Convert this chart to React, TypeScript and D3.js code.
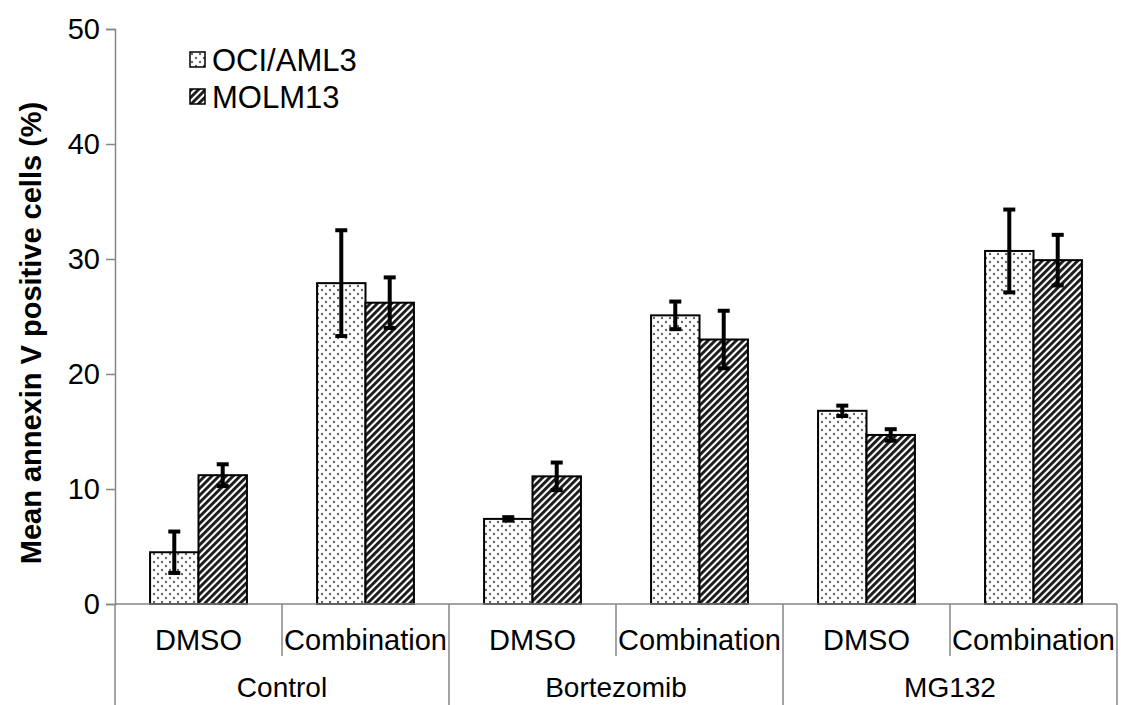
import { useRef, useEffect } from "react";
import * as d3 from "d3";

const groups = ["Control", "Bortezomib", "MG132"];
const treatments = ["DMSO", "Combination"];
const series = ["OCI/AML3", "MOLM13"];
const yTicks = [0, 10, 20, 30, 40, 50];

// mean values, order: Control DMSO, Control Comb, Bort DMSO, Bort Comb, MG132 DMSO, MG132 Comb
const ociMean = [4.5, 27.9, 7.4, 25.1, 16.8, 30.7];
const ociErr = [1.8, 4.6, 0.15, 1.2, 0.45, 3.6];
const molmMean = [11.2, 26.2, 11.1, 23.0, 14.7, 29.9];
const molmErr = [0.95, 2.2, 1.2, 2.5, 0.5, 2.2];

const App = () => {
  const svgRef = useRef<SVGSVGElement>(null);

  useEffect(() => {
    const svg = d3.select(svgRef.current);
    svg.selectAll("*").remove();

    const W = 1121, H = 705;
    const left = 115, right = 1117, top = 29, bottom = 604;
    svg.attr("width", W).attr("height", H);

    const defs = svg.append("defs");
    const dots = defs.append("pattern")
      .attr("id", "dots")
      .attr("patternUnits", "userSpaceOnUse")
      .attr("width", 8).attr("height", 8);
    dots.append("rect").attr("width", 8).attr("height", 8).attr("fill", "#fff");
    dots.append("circle").attr("cx", 2).attr("cy", 2).attr("r", 1.2).attr("fill", "#666");
    dots.append("circle").attr("cx", 6).attr("cy", 6).attr("r", 1.2).attr("fill", "#666");

    const hatch = defs.append("pattern")
      .attr("id", "hatch")
      .attr("patternUnits", "userSpaceOnUse")
      .attr("width", 5).attr("height", 5)
      .attr("patternTransform", "rotate(45)");
    hatch.append("rect").attr("width", 5).attr("height", 5).attr("fill", "#fff");
    hatch.append("rect").attr("x", 0).attr("y", 0).attr("width", 2.9).attr("height", 5).attr("fill", "#1a1a1a");

    const cats = groups.flatMap((g) => treatments.map((t) => `${g}|${t}`));
    const x0 = d3.scaleBand().domain(cats).range([left, right]);
    const bw = x0.bandwidth();
    const x1 = d3.scaleBand().domain(series).range([bw * 0.21, bw * 0.79]);
    const y = d3.scaleLinear().domain([0, 50]).range([bottom, top]);

    const font = "'Liberation Sans', Arial, sans-serif";
    const axisColor = "#868686";

    // y axis
    const yAxis = svg.append("g")
      .attr("transform", `translate(${left},0)`)
      .call(d3.axisLeft(y).tickValues(yTicks).tickSize(9).tickPadding(6).tickFormat(d3.format("d")));
    yAxis.select(".domain").attr("stroke", axisColor).attr("stroke-width", 1.5);
    yAxis.selectAll(".tick line").attr("stroke", axisColor).attr("stroke-width", 1.5);
    yAxis.selectAll(".tick text")
      .attr("font-family", font).attr("font-size", 29).attr("fill", "#000");

    // bars
    const meanBy = [ociMean, molmMean];
    const errBy = [ociErr, molmErr];
    const fills = ["url(#dots)", "url(#hatch)"];

    series.forEach((s, si) => {
      const g = svg.append("g");
      g.selectAll("rect")
        .data(cats)
        .enter()
        .append("rect")
        .attr("x", (c) => x0(c)! + x1(s)!)
        .attr("y", (c, i) => y(meanBy[si][i]))
        .attr("width", x1.bandwidth())
        .attr("height", (c, i) => bottom - y(meanBy[si][i]))
        .attr("fill", fills[si])
        .attr("stroke", "#000")
        .attr("stroke-width", 2);
    });

    // x axis line
    svg.append("line")
      .attr("x1", left).attr("x2", right)
      .attr("y1", bottom).attr("y2", bottom)
      .attr("stroke", axisColor).attr("stroke-width", 1.5);

    // error bars
    series.forEach((s, si) => {
      const g = svg.append("g");
      cats.forEach((c, i) => {
        const cx = x0(c)! + x1(s)! + x1.bandwidth() / 2;
        const m = meanBy[si][i], e = errBy[si][i];
        const yHi = y(m + e), yLo = y(m - e);
        g.append("line").attr("x1", cx).attr("x2", cx).attr("y1", yHi).attr("y2", yLo)
          .attr("stroke", "#000").attr("stroke-width", 4);
        [yHi, yLo].forEach((yy) => {
          g.append("line").attr("x1", cx - 6).attr("x2", cx + 6).attr("y1", yy).attr("y2", yy)
            .attr("stroke", "#000").attr("stroke-width", 4);
        });
      });
    });

    // category dividers and labels
    const cg = svg.append("g");
    cats.forEach((c, i) => {
      const xs = x0(c)!;
      const isGroupStart = i % 2 === 0;
      cg.append("line")
        .attr("x1", xs).attr("x2", xs)
        .attr("y1", bottom).attr("y2", isGroupStart ? H : 656)
        .attr("stroke", axisColor).attr("stroke-width", 1.5);
      cg.append("text")
        .attr("x", xs + bw / 2).attr("y", 650)
        .attr("text-anchor", "middle")
        .attr("font-family", font).attr("font-size", 29)
        .text(c.split("|")[1]);
    });
    cg.append("line")
      .attr("x1", right).attr("x2", right)
      .attr("y1", bottom).attr("y2", H)
      .attr("stroke", axisColor).attr("stroke-width", 1.5);
    groups.forEach((g) => {
      const xs = x0(`${g}|DMSO`)!;
      cg.append("text")
        .attr("x", xs + bw).attr("y", 697)
        .attr("text-anchor", "middle")
        .attr("font-family", font).attr("font-size", 28)
        .text(g);
    });

    // y title
    svg.append("text")
      .attr("transform", `translate(41,333) rotate(-90)`)
      .attr("text-anchor", "middle")
      .attr("font-family", font).attr("font-size", 29).attr("font-weight", "bold")
      .text("Mean annexin V positive cells (%)");

    // legend
    const lg = svg.append("g").attr("transform", "translate(190,52)");
    series.forEach((s, si) => {
      const row = lg.append("g").attr("transform", `translate(0,${si * 37})`);
      row.append("rect").attr("width", 15).attr("height", 15)
        .attr("fill", fills[si]).attr("stroke", "#000").attr("stroke-width", 1.5);
      row.append("text").attr("x", 22).attr("y", 19)
        .attr("font-family", font).attr("font-size", 31)
        .text(s);
    });
  }, []);

  return (
    <div style={{ position: "absolute", left: 0, top: 0, width: 1121, height: 705, overflow: "hidden" }}>
      <svg ref={svgRef} style={{ display: "block" }}></svg>
    </div>
  );
};

export default App;
